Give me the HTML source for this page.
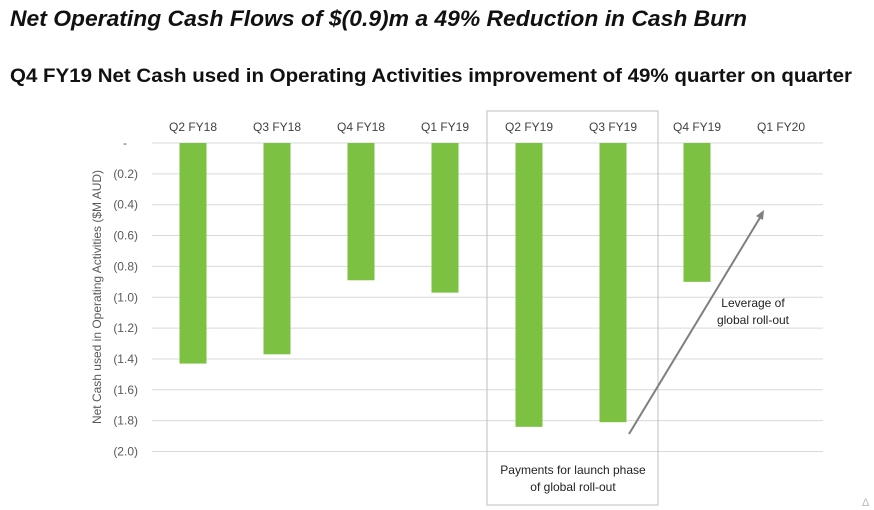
<!DOCTYPE html>
<html><head><meta charset="utf-8"><style>
html,body{margin:0;padding:0;background:#fff;}
svg{display:block;font-family:"Liberation Sans",sans-serif;}
</style></head><body>
<svg id="chart" width="874" height="510" viewBox="0 0 874 510" xmlns="http://www.w3.org/2000/svg">
<text x="10" y="26" font-size="22" font-weight="bold" font-style="italic" fill="#111" textLength="737" lengthAdjust="spacingAndGlyphs">Net Operating Cash Flows of $(0.9)m a 49% Reduction in Cash Burn</text>
<text x="10" y="82" font-size="19" font-weight="bold" fill="#111" textLength="842" lengthAdjust="spacingAndGlyphs">Q4 FY19 Net Cash used in Operating Activities improvement of 49% quarter on quarter</text>
<g id="grid"></g>
<g id="bars"></g>
<g id="labels"></g>
<rect x="487" y="111" width="171" height="394" fill="none" stroke="#bfbfbf" stroke-width="1"/>
<text text-anchor="middle" font-size="12" fill="#222"><tspan x="573" y="474">Payments for launch phase</tspan><tspan x="573" y="491">of global roll-out</tspan></text>
<text text-anchor="middle" font-size="12" fill="#222"><tspan x="753" y="307">Leverage of</tspan><tspan x="753" y="324">global roll-out</tspan></text>
<line x1="629" y1="434" x2="761" y2="216" stroke="#7f7f7f" stroke-width="2"/>
<polygon points="764,210 756,216 763,220" fill="#7f7f7f"/>
<text transform="translate(101,297) rotate(-90)" text-anchor="middle" font-size="12" fill="#595959">Net Cash used in Operating Activities ($M AUD)</text>
<text x="862" y="506" font-size="11" fill="#bbb">Δ</text>
</svg>
<script>
const categories = ["Q2 FY18","Q3 FY18","Q4 FY18","Q1 FY19","Q2 FY19","Q3 FY19","Q4 FY19","Q1 FY20"];
const values = [1.43, 1.37, 0.89, 0.97, 1.84, 1.81, 0.90, null];
const tickValues = [0,0.2,0.4,0.6,0.8,1.0,1.2,1.4,1.6,1.8,2.0];
const tickLabels = ["-","(0.2)","(0.4)","(0.6)","(0.8)","(1.0)","(1.2)","(1.4)","(1.6)","(1.8)","(2.0)"];

const NS="http://www.w3.org/2000/svg";
const y0=143, yMax=2.0, yEnd=451.5, xL=152, xR=823, x0=151, step=84, barW=27;
function yScale(v){return y0+(v/yMax)*(yEnd-y0);}
function xCenter(i){return x0+step*(i+0.5);}
const grid=document.getElementById('grid'), bars=document.getElementById('bars'), labels=document.getElementById('labels');
tickValues.forEach((t,i)=>{
  const y=yScale(t);
  const l=document.createElementNS(NS,'line');
  
  
  l.setAttribute('x1',xL);l.setAttribute('x2',xR);l.setAttribute('y1',y);l.setAttribute('y2',y);
  l.setAttribute('stroke','#d9d9d9');l.setAttribute('stroke-width','1');
  grid.appendChild(l);
  const tx=document.createElementNS(NS,'text');
  
  
  tx.setAttribute('x',i===0?127:138);tx.setAttribute('y',y+4);
  tx.setAttribute('text-anchor','end');tx.setAttribute('font-size','12');tx.setAttribute('fill','#595959');
  tx.textContent=tickLabels[i];
  labels.appendChild(tx);
});
categories.forEach((c,i)=>{
  const cx=xCenter(i);
  const tx=document.createElementNS(NS,'text');
  
  
  tx.setAttribute('x',cx);tx.setAttribute('y',131);
  tx.setAttribute('text-anchor','middle');tx.setAttribute('font-size','12');tx.setAttribute('fill','#404040');
  tx.textContent=c;
  labels.appendChild(tx);
  if(values[i]!=null){
    const r=document.createElementNS(NS,'rect');
    
    
    r.setAttribute('x',cx-barW/2);r.setAttribute('y',y0);
    r.setAttribute('width',barW);r.setAttribute('height',yScale(values[i])-y0);
    r.setAttribute('fill','#7dc142');
    bars.appendChild(r);
  }
});
</script>
</body></html>
